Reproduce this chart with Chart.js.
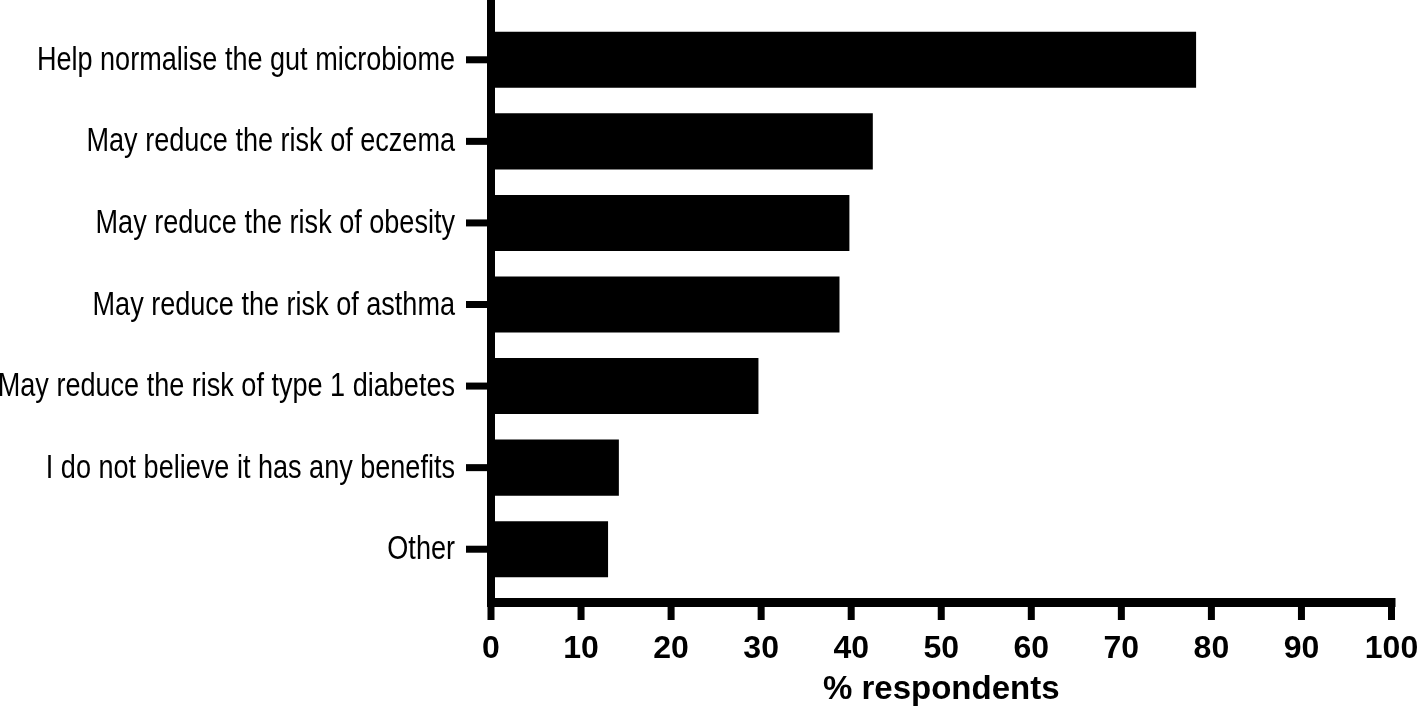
<!DOCTYPE html>
<html lang="en">
<head>
    <meta charset="UTF-8">
    <title>Perceived benefits</title>
    <style>
        body {
            margin: 0;
            background: #fff;
        }
        .chart-box {
            width: 1418px;
            height: 710px;
        }
    </style>
    <script src="https://cdn.jsdelivr.net/npm/chart.js@4"></script>
</head>
<body>
    <div class="chart-box">
        <canvas id="benefitsChart" width="1418" height="710"></canvas>
    </div>
    <script>
        const categories = [
            'Help normalise the gut microbiome',
            'May reduce the risk of eczema',
            'May reduce the risk of obesity',
            'May reduce the risk of asthma',
            'May reduce the risk of type 1 diabetes',
            'I do not believe it has any benefits',
            'Other'
        ];
        const percentRespondents = [78.3, 42.4, 39.8, 38.7, 29.7, 14.2, 13.0];
        const xTicks = [0, 10, 20, 30, 40, 50, 60, 70, 80, 90, 100];

        // thick black axes with outward ticks, plus the narrow category labels
        const axisPlugin = {
            id: 'axisLines',
            afterDraw(chart) {
                const ctx = chart.ctx;
                const xs = chart.scales.x;
                const ys = chart.scales.y;
                const x0 = xs.getPixelForValue(0);
                const x100 = xs.getPixelForValue(100);
                const axisY = chart.chartArea.bottom + 12;
                ctx.save();
                ctx.fillStyle = '#000';
                ctx.fillRect(x0 - 4, 0, 8, axisY + 4);
                ctx.fillRect(x0 - 4, axisY - 4, x100 + 4 - (x0 - 4), 9);
                xs.ticks.forEach(t => {
                    const px = xs.getPixelForValue(t.value);
                    ctx.fillRect(px - 3.5, axisY, 7, 18);
                });
                // labels are a condensed face; squeeze Arial horizontally
                const squeeze = 0.82;
                ctx.font = '33px Arial, "Liberation Sans", sans-serif';
                ctx.textAlign = 'right';
                ctx.textBaseline = 'middle';
                categories.forEach((c, i) => {
                    const py = ys.getPixelForValue(i);
                    ctx.fillRect(x0 - 25, py - 3.5, 25, 7);
                    ctx.save();
                    ctx.translate(x0 - 36, py + 1);
                    ctx.scale(squeeze, 1);
                    ctx.fillText(c, 0, 0);
                    ctx.restore();
                });
                ctx.restore();
            }
        };

        const ctx = document.getElementById('benefitsChart').getContext('2d');
        new Chart(ctx, {
            type: 'bar',
            data: {
                labels: categories,
                datasets: [{
                    data: percentRespondents,
                    backgroundColor: '#000',
                    borderWidth: 0,
                    barPercentage: 0.687,
                    categoryPercentage: 1
                }]
            },
            options: {
                indexAxis: 'y',
                responsive: false,
                animation: false,
                layout: { padding: { top: 19, bottom: 0, left: 0, right: 26.5 } },
                plugins: {
                    legend: { display: false },
                    tooltip: { enabled: false }
                },
                scales: {
                    x: {
                        min: 0,
                        max: 100,
                        afterBuildTicks: scale => {
                            scale.ticks = xTicks.map(v => ({ value: v }));
                        },
                        afterFit: scale => {
                            scale.height = 120;
                            scale.paddingLeft = 0;
                            scale.paddingRight = 0;
                        },
                        grid: { display: false, drawTicks: false },
                        border: { display: false },
                        ticks: {
                            padding: 40,
                            color: '#000',
                            maxRotation: 0,
                            font: { family: 'Arial, "Liberation Sans", sans-serif', size: 32, weight: 'bold' }
                        },
                        title: {
                            display: true,
                            text: '% respondents',
                            color: '#000',
                            padding: { top: 0, bottom: 0 },
                            font: { family: 'Arial, "Liberation Sans", sans-serif', size: 33, weight: 'bold' }
                        }
                    },
                    y: {
                        afterFit: scale => {
                            scale.width = 491;
                            scale.paddingTop = 0;
                            scale.paddingBottom = 0;
                        },
                        grid: { display: false, drawTicks: false },
                        border: { display: false },
                        ticks: { display: false }
                    }
                }
            },
            plugins: [axisPlugin]
        });
    </script>
</body>
</html>
